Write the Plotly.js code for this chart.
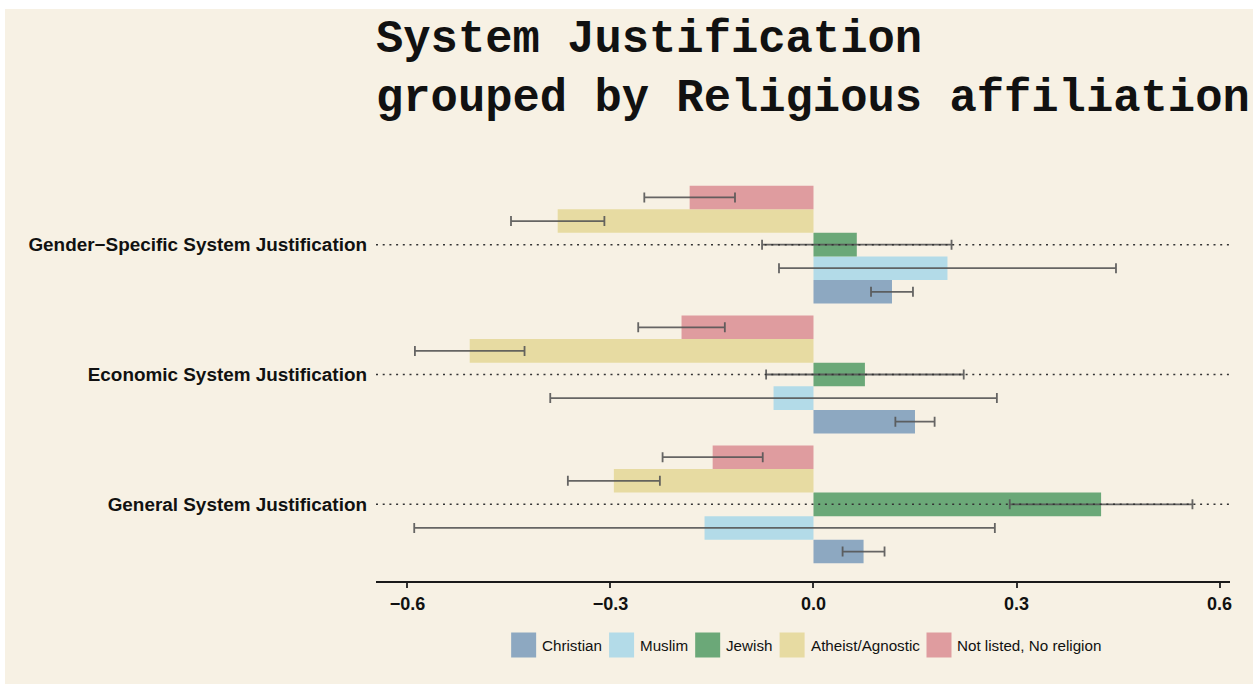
<!DOCTYPE html>
<html>
<head>
<meta charset="utf-8">
<script src="https://cdn.plot.ly/plotly-3.0.1.min.js"></script>
<style>
  html, body { margin: 0; padding: 0; background: #ffffff; }
  #bg { position: absolute; left: 5px; top: 9px; width: 1248px; height: 675px; background: #F7F1E4; }
  #chart { position: absolute; left: 0; top: 0; width: 1253px; height: 684px; }
</style>
</head>
<body>
<div id="bg"></div>
<div id="chart"></div>
<script>
// Categories (bottom to top)
const categories = [
  "General System Justification",
  "Economic System Justification",
  "Gender\u2212Specific System Justification"
];

// Series names and colors
const seriesNames = ["Christian", "Muslim", "Jewish", "Atheist/Agnostic", "Not listed, No religion"];
const seriesColors = ["#8DA8C1", "#B3DBE8", "#6BA878", "#E7DBA2", "#DF9C9F"];

// Mean values per series (order of categories above)
const christian = [0.074, 0.150, 0.116];
const muslim    = [-0.161, -0.059, 0.198];
const jewish    = [0.425, 0.076, 0.064];
const atheist   = [-0.295, -0.508, -0.378];
const notListed = [-0.149, -0.195, -0.183];

// Error half-widths per series
const christianErr = [0.031, 0.029, 0.031];
const muslimErr    = [0.429, 0.330, 0.249];
const jewishErr    = [0.135, 0.146, 0.140];
const atheistErr   = [0.068, 0.081, 0.069];
const notListedErr = [0.074, 0.064, 0.067];

const values = [christian, muslim, jewish, atheist, notListed];
const errors = [christianErr, muslimErr, jewishErr, atheistErr, notListedErr];

// X ticks
const xTicks = [-0.6, -0.3, 0.0, 0.3, 0.6];

// ---- geometry of the page (pixels) ----
const W = 1253, H = 684;
const M = { l: 376, r: 23, t: 168, b: 103 };
const plotW = W - M.l - M.r, plotH = H - M.t - M.b;
const pxToPaperX = px => (px - M.l) / plotW;
const pxToPaperY = py => (H - M.b - py) / plotH;

const sansFamily = "Liberation Sans, Arial, sans-serif";
const legendFontSize = 15.2;

const traces = seriesNames.map((name, i) => ({
  type: "bar",
  orientation: "h",
  name: name,
  y: categories,
  x: values[i],
  marker: { color: seriesColors[i], line: { width: 0 } },
  error_x: { type: "data", array: errors[i], visible: true, color: "rgba(85,85,85,0.9)", thickness: 1.8, width: 5 },
  hoverinfo: "x+name",
  showlegend: false
}));

// Dotted guide lines at each category, drawn above the bars
const shapes = categories.map((c, i) => ({
  type: "line", xref: "paper", yref: "y",
  x0: 0, x1: 1.0025, y0: i, y1: i,
  layer: "above",
  line: { color: "#333333", width: 1.5, dash: "2px,4.7px" }
}));

// Custom legend with large square swatches, laid out from measured text widths
const ctx = document.createElement("canvas").getContext("2d");
ctx.font = legendFontSize + "px 'Liberation Sans', Arial, sans-serif";
const sw = 25, gapSwText = 6, gapItem = 7;
const widths = seriesNames.map(n => ctx.measureText(n).width);
const total = widths.reduce((s, w) => s + sw + gapSwText + w, 0) + gapItem * (seriesNames.length - 1);
const legendCenterX = 806.5, legendCenterY = 645;
let cursor = legendCenterX - total / 2;
const annotations = [];
seriesNames.forEach((n, i) => {
  shapes.push({
    type: "rect", xref: "paper", yref: "paper",
    x0: pxToPaperX(cursor), x1: pxToPaperX(cursor + sw),
    y0: pxToPaperY(legendCenterY + sw / 2), y1: pxToPaperY(legendCenterY - sw / 2),
    fillcolor: seriesColors[i], line: { width: 0 }, layer: "above"
  });
  annotations.push({
    text: n, xref: "paper", yref: "paper",
    x: pxToPaperX(cursor + sw + gapSwText - 1), xanchor: "left",
    y: pxToPaperY(legendCenterY), yanchor: "middle",
    showarrow: false, borderpad: 0,
    font: { family: sansFamily, size: legendFontSize, color: "#111111" }
  });
  cursor += sw + gapSwText + widths[i] + gapItem;
});

const layout = {
  width: W,
  height: H,
  paper_bgcolor: "rgba(0,0,0,0)",
  plot_bgcolor: "rgba(0,0,0,0)",
  margin: M,
  barmode: "group",
  bargap: 0.092,
  bargroupgap: 0,
  title: {
    text: "System Justification<br>grouped by Religious affiliation",
    font: { family: "Courier New, Liberation Mono, monospace", size: 45.5, color: "#111111", weight: "bold" },
    x: 0, xref: "paper", xanchor: "left",
    y: 1 - 52 / H, yref: "container", yanchor: "top"
  },
  xaxis: {
    range: [-0.6465, 0.6155],
    tickvals: xTicks,
    tickformat: ".1f",
    showgrid: false,
    zeroline: false,
    showline: true,
    linecolor: "#1a1a1a",
    linewidth: 2,
    ticks: "outside",
    ticklen: 5,
    tickwidth: 1.5,
    tickcolor: "#333333",
    tickfont: { family: sansFamily, size: 18, color: "#111111", weight: "bold" },
    fixedrange: true
  },
  yaxis: {
    type: "category",
    categoryorder: "array",
    categoryarray: categories,
    range: [-0.59, 2.59],
    showline: false,
    ticks: "",
    ticklabelstandoff: 8,
    showgrid: false,
    zeroline: false,
    tickfont: { family: sansFamily, size: 18.9, color: "#111111", weight: "bold" },
    fixedrange: true
  },
  shapes: shapes,
  annotations: annotations,
  showlegend: false
};

Plotly.newPlot("chart", traces, layout, { displayModeBar: false, responsive: false });
</script>
</body>
</html>
